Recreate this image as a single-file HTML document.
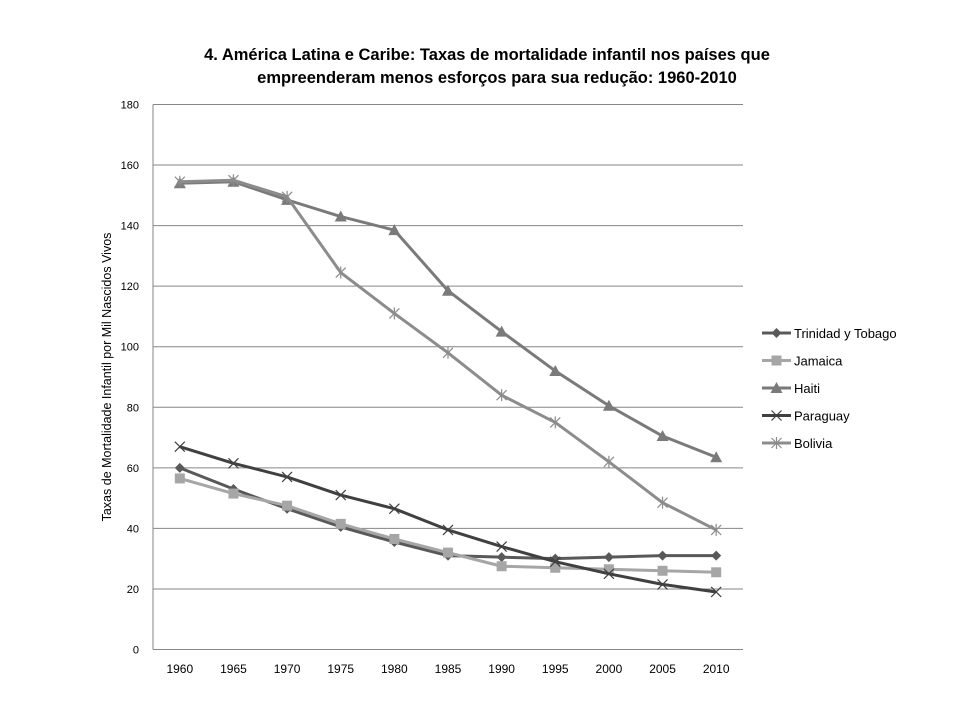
<!DOCTYPE html>
<html><head><meta charset="utf-8"><style>
body{margin:0;background:#fff;font-family:"Liberation Sans",sans-serif}
svg text{font-family:"Liberation Sans",sans-serif}
</style></head><body>
<svg id="c" width="960" height="720" xmlns="http://www.w3.org/2000/svg">
<text x="487" y="60" text-anchor="middle" font-size="16.5" font-weight="bold">4. América Latina e Caribe: Taxas de mortalidade infantil nos países que</text>
<text x="497" y="83" text-anchor="middle" font-size="16.5" font-weight="bold">empreenderam menos esforços para sua redução: 1960-2010</text>
<text transform="translate(111,377) rotate(-90)" text-anchor="middle" font-size="12.5">Taxas de Mortalidade Infantil por Mil Nascidos Vivos</text>
<g id="grid"></g><g id="series"></g><g id="legend"></g>
</svg>
<script>
const categories=["1960","1965","1970","1975","1980","1985","1990","1995","2000","2005","2010"];
const yTicks=[0,20,40,60,80,100,120,140,160,180];
const seriesNames=["Trinidad y Tobago","Jamaica","Haiti","Paraguay","Bolivia"];
const trinidad=[60,53,46.5,40.5,35.5,31,30.5,30,30.5,31,31];
const jamaica=[56.5,51.5,47.5,41.5,36.5,32,27.5,27,26.5,26,25.5];
const haiti=[154,154.5,148.5,143,138.5,118.5,105,92,80.5,70.5,63.5];
const paraguay=[67,61.5,57,51,46.5,39.5,34,29,25,21.5,19];
const bolivia=[154.5,155,149.5,124.5,111,98,84,75,62,48.5,39.5];

const NS="http://www.w3.org/2000/svg";
const L=153,R=743,T=104.5,B=649.5,YMAX=180;
const x=i=>L+(i+0.5)*(R-L)/categories.length;
const y=v=>B-v/YMAX*(B-T);
function mk(tag,attrs,parent){const e=document.createElementNS(NS,tag);for(const k in attrs)e.setAttribute(k,attrs[k]);parent.appendChild(e);return e;}
const grid=document.getElementById('grid');
yTicks.forEach(t=>{
  const ln=mk('line',{x1:L,x2:R,y1:y(t),y2:y(t),stroke:'#868686','stroke-width':1},grid);
  
  
  const tx=mk('text',{x:139,y:y(t)+4,'text-anchor':'end','font-size':11},grid);
  tx.textContent=t;
  
  
});
const ax=mk('line',{x1:L,x2:L,y1:T,y2:B,stroke:'#868686'},grid);


categories.forEach((c,i)=>{
  const tx=mk('text',{x:x(i),y:673,'text-anchor':'middle','font-size':12},grid);
  tx.textContent=c;
  
  
});
const colors=['#595959','#a6a6a6','#7a7a7a','#404040','#8c8c8c'];
const markers=['diamond','square','triangle','x','star'];
const data=[trinidad,jamaica,haiti,paraguay,bolivia];
function marker(g,type,cx,cy,col){
  let e;
  if(type==='diamond')e=mk('path',{d:`M${cx} ${cy-5}L${cx+5} ${cy}L${cx} ${cy+5}L${cx-5} ${cy}Z`,fill:col},g);
  else if(type==='square')e=mk('rect',{x:cx-5,y:cy-5,width:10,height:10,fill:col},g);
  else if(type==='triangle')e=mk('path',{d:`M${cx} ${cy-6}L${cx+6} ${cy+5}L${cx-6} ${cy+5}Z`,fill:col},g);
  else if(type==='x')e=mk('path',{d:`M${cx-5} ${cy-5}L${cx+5} ${cy+5}M${cx+5} ${cy-5}L${cx-5} ${cy+5}`,stroke:col,'stroke-width':1.2,fill:'none'},g);
  else e=mk('path',{d:`M${cx-5} ${cy-5}L${cx+5} ${cy+5}M${cx+5} ${cy-5}L${cx-5} ${cy+5}M${cx} ${cy-6}L${cx} ${cy+6}`,stroke:col,'stroke-width':1.2,fill:'none'},g);
  
  
}
const sg=document.getElementById('series');
const lg=document.getElementById('legend');
data.forEach((vals,s)=>{
  const g=mk('g',{},sg);
  
  
  const p=mk('polyline',{points:vals.map((v,i)=>x(i)+','+y(v)).join(' '),fill:'none',stroke:colors[s],'stroke-width':3,'stroke-linejoin':'round'},g);
  
  
  vals.forEach((v,i)=>marker(g,markers[s],x(i),y(v),colors[s]));
  const ly=333+s*27.5;
  const le=mk('g',{},lg);
  
  
  mk('line',{x1:762,x2:791,y1:ly,y2:ly,stroke:colors[s],'stroke-width':3},le);
  marker(le,markers[s],776.5,ly,colors[s]);
  const t=mk('text',{x:794,y:ly+5,'font-size':13},le);
  t.textContent=seriesNames[s];
  
  
});
</script>
</body></html>
